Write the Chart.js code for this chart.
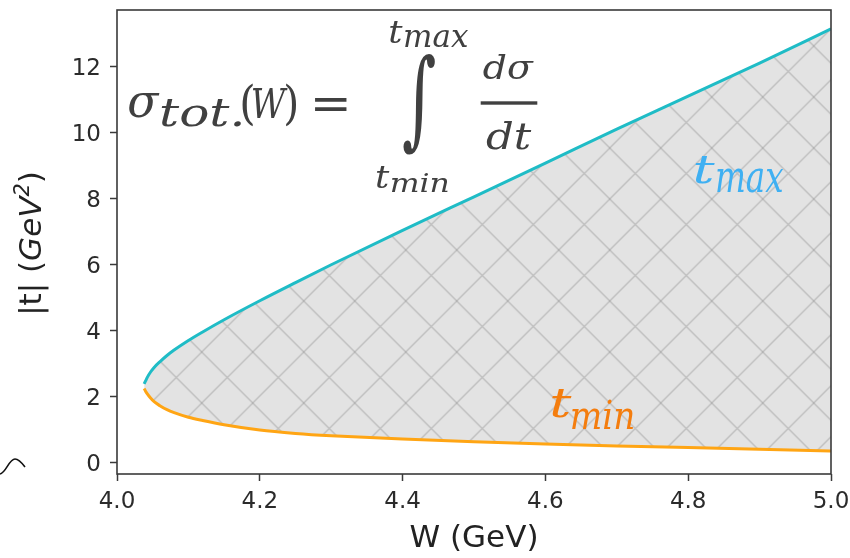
<!DOCTYPE html>
<html>
<head>
<meta charset="utf-8">
<script src="https://cdn.jsdelivr.net/npm/chart.js@4.4.1/dist/chart.umd.min.js"></script>
<style>
  html, body { margin: 0; padding: 0; background: #fff; }
  #wrap { width: 850px; height: 558px; }
</style>
</head>
<body>
<div id="wrap"><canvas id="canvas" width="850" height="558"></canvas></div>
<script>
'use strict';

// W (GeV) and the |t| limits
const W    = [4.038, 4.040, 4.043, 4.047, 4.052, 4.060, 4.070, 4.080, 4.100, 4.120, 4.150, 4.200, 4.250, 4.300, 4.400, 4.500, 4.600, 4.700, 4.800, 4.900, 5.000];
const tMax = [2.38, 2.47, 2.60, 2.74, 2.88, 3.05, 3.24, 3.405, 3.695, 3.955, 4.325, 4.90, 5.45, 5.99, 7.03, 8.05, 9.07, 10.10, 11.10, 12.10, 13.14];
const tMin = [2.24, 2.16, 2.06, 1.95, 1.84, 1.72, 1.60, 1.51, 1.37, 1.27, 1.14, 0.98, 0.88, 0.81, 0.71, 0.63, 0.56, 0.50, 0.45, 0.40, 0.35];

const xTicks = [4.0, 4.2, 4.4, 4.6, 4.8, 5.0];
const yTicks = [0, 2, 4, 6, 8, 10, 12];

const xLabel = 'W (GeV)';
const inkColor = '#2b2b2b';
const mathColor = '#404040';

const canvas = document.getElementById('canvas');
const ctx = canvas.getContext('2d');

// crosshatch fill like matplotlib hatch='x'
function makeHatch() {
  const s = 51;
  const tile = document.createElement('canvas');
  tile.width = s; tile.height = s;
  const t = tile.getContext('2d');
  t.fillStyle = '#e3e3e3';
  t.fillRect(0, 0, s, s);
  t.strokeStyle = 'rgba(140,140,140,0.42)';
  t.lineWidth = 1.4;
  for (let k = -1; k <= 1; k++) {
    t.beginPath();
    t.moveTo(k * s - s, -s); t.lineTo(k * s + 2 * s, 2 * s);
    t.moveTo(k * s + 2 * s, -s); t.lineTo(k * s - s, 2 * s);
    t.stroke();
  }
  const p = ctx.createPattern(tile, 'repeat');
  p.setTransform(new DOMMatrix([1, 0, 0, 1, 48.7, 46]));
  return p;
}

// draw text so that its ink fits a given box
function boxText(c, text, font, color, x0, y0, x1, y1) {
  c.font = font;
  c.textAlign = 'left';
  c.textBaseline = 'alphabetic';
  const m = c.measureText(text);
  const w = m.actualBoundingBoxLeft + m.actualBoundingBoxRight;
  const h = m.actualBoundingBoxAscent + m.actualBoundingBoxDescent;
  c.save();
  c.translate(x0, y0);
  c.scale((x1 - x0) / w, (y1 - y0) / h);
  c.fillStyle = color;
  c.fillText(text, m.actualBoundingBoxLeft, m.actualBoundingBoxAscent);
  c.restore();
}

const serifIt = s => `italic ${s}px "DejaVu Serif"`;
const serif = s => `${s}px "DejaVu Serif"`;

const annotations = {
  id: 'annotations',
  afterDraw(chart) {
    const c = chart.ctx;
    const a = chart.chartArea;

    // frame
    c.save();
    c.strokeStyle = '#3a3a3a';
    c.lineWidth = 1.6;
    c.strokeRect(a.left, a.top, a.right - a.left, a.bottom - a.top);
    c.restore();

    // formula
    boxText(c, 'σ', serifIt(46), mathColor, 128.3, 93.3, 160, 118.3);
    boxText(c, 'tot.', serifIt(37), mathColor, 161.7, 99.3, 241.7, 127.3);
    boxText(c, '(', serif(46), mathColor, 242, 82.7, 253, 126.7);
    boxText(c, 'W', serifIt(46), mathColor, 253, 87, 288, 117.5);
    boxText(c, ')', serif(46), mathColor, 286, 82.7, 296.7, 126.7);
    boxText(c, '=', serif(46), mathColor, 314, 97.3, 346.7, 110.7);
    boxText(c, '∫', serif(100), mathColor, 403.3, 53.3, 435, 155);
    boxText(c, 't', serifIt(40), mathColor, 390, 21.7, 403.3, 43.3);
    boxText(c, 'max', serifIt(32), mathColor, 405, 30, 468.3, 47.3);
    boxText(c, 't', serifIt(40), mathColor, 376.7, 166.7, 390, 188.3);
    boxText(c, 'min', serifIt(32), mathColor, 391.7, 172.7, 448.3, 191.7);
    boxText(c, 'dσ', serifIt(46), mathColor, 482.7, 52.7, 534, 80);
    c.fillStyle = mathColor;
    c.fillRect(480.7, 101.3, 56.6, 3.4);
    boxText(c, 'dt', serifIt(46), mathColor, 486, 120, 531.7, 150);

    // curve labels
    boxText(c, 't', serifIt(44), '#3fb0f2', 695, 155, 715, 184);
    boxText(c, 'max', serifIt(36), '#3fb0f2', 716.7, 168.3, 783.3, 193.3);
    boxText(c, 't', serifIt(44), '#f47d0e', 551.7, 388.3, 571.7, 418.3);
    boxText(c, 'min', serifIt(36), '#f47d0e', 571.7, 401.7, 633.3, 429.3);

    // y axis title: |t| (GeV²)
    c.save();
    c.translate(41, 243.5);
    c.rotate(-Math.PI / 2);
    c.fillStyle = '#222';
    c.textBaseline = 'alphabetic';
    c.textAlign = 'left';
    const parts = [
      ['|t| ', '31px "DejaVu Sans"', 0],
      ['(', '31px "DejaVu Sans"', 0],
      ['GeV', 'italic 31px "DejaVu Sans"', 0],
      ['2', 'italic 21px "DejaVu Sans"', -12],
      [')', '31px "DejaVu Sans"', 0]
    ];
    let total = 0;
    parts.forEach(p => { c.font = p[1]; total += c.measureText(p[0]).width; });
    let x = -total / 2;
    parts.forEach(p => {
      c.font = p[1];
      c.fillText(p[0], x, p[2]);
      x += c.measureText(p[0]).width;
    });
    c.restore();

    // stray squiggle at the left edge
    c.save();
    c.strokeStyle = '#111';
    c.lineWidth = 1.6;
    c.beginPath();
    c.moveTo(0, 474);
    c.bezierCurveTo(6, 473, 9, 459, 15, 459);
    c.bezierCurveTo(19, 459, 22, 463, 25, 467);
    c.stroke();
    c.restore();
  }
};

const hatch = makeHatch();

function noPad(s) {
  s.paddingTop = 0; s.paddingBottom = 0;
  s.paddingLeft = 0; s.paddingRight = 0;
}

new Chart(ctx, {
  type: 'line',
  data: {
    datasets: [
      {
        label: 't_max',
        data: W.map((w, i) => ({ x: w, y: tMax[i] })),
        borderColor: '#1fbcc6',
        borderWidth: 3,
        pointRadius: 0,
        cubicInterpolationMode: 'monotone',
        fill: '+1',
        backgroundColor: hatch
      },
      {
        label: 't_min',
        data: W.map((w, i) => ({ x: w, y: tMin[i] })),
        borderColor: '#ffa514',
        borderWidth: 3,
        pointRadius: 0,
        cubicInterpolationMode: 'monotone',
        fill: false
      }
    ]
  },
  options: {
    responsive: false,
    animation: false,
    devicePixelRatio: 1,
    layout: { padding: { left: 0, right: 19, top: 10, bottom: 0 } },
    plugins: {
      legend: { display: false },
      tooltip: { enabled: false },
      filler: { drawTime: 'beforeDatasetsDraw' }
    },
    scales: {
      x: {
        type: 'linear',
        min: 4.0,
        max: 5.0,
        afterBuildTicks: s => { s.ticks = xTicks.map(v => ({ value: v })); },
        afterFit: s => { s.height = 84; noPad(s); },
        border: { display: false },
        grid: { drawOnChartArea: false, drawTicks: true, tickLength: 7, tickColor: '#3a3a3a', tickWidth: 1.5 },
        ticks: {
          padding: 7,
          color: inkColor,
          font: { family: 'DejaVu Sans', size: 23 },
          maxRotation: 0,
          callback: v => Number(v).toFixed(1)
        },
        title: {
          display: true,
          text: xLabel,
          color: '#222',
          font: { family: 'DejaVu Sans', size: 31, lineHeight: 1 },
          padding: { top: 0, bottom: 4 }
        }
      },
      y: {
        type: 'linear',
        min: -0.35,
        max: 13.71,
        afterBuildTicks: s => { s.ticks = yTicks.map(v => ({ value: v })); },
        afterFit: s => { s.width = 117; noPad(s); },
        border: { display: false },
        grid: { drawOnChartArea: false, drawTicks: true, tickLength: 7, tickColor: '#3a3a3a', tickWidth: 1.5 },
        ticks: {
          padding: 9,
          labelOffset: 3,
          color: inkColor,
          font: { family: 'DejaVu Sans', size: 23 }
        }
      }
    }
  },
  plugins: [annotations]
});
</script>
</body>
</html>
